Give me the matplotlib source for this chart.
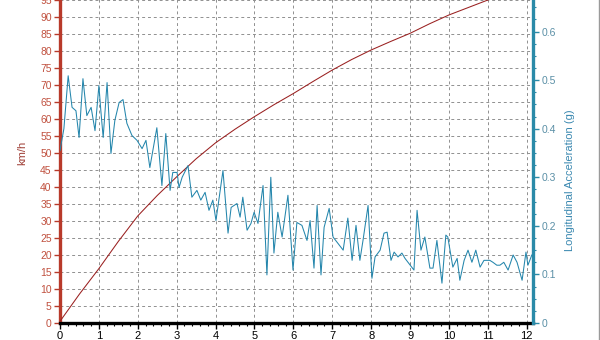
import matplotlib
matplotlib.use("Agg")
import matplotlib.pyplot as plt
from matplotlib.ticker import MultipleLocator
from matplotlib.lines import Line2D

plt.rcParams['font.family'] = ['Liberation Sans', 'DejaVu Sans']

# Speed (km/h) vs time (s)
speed_t = [0, 0.5, 1, 1.5, 2, 2.5, 3, 3.5, 4, 4.5, 5, 5.5, 6, 6.5, 7, 7.5,
           8, 8.5, 9, 9.5, 10, 10.5, 11, 11.5, 12.2]
speed_v = [0.5, 8.5, 16, 24, 31.5, 37.5, 43, 48.3, 53, 57, 60.7, 64.2, 67.5,
           71, 74.4, 77.5, 80.3, 82.8, 85.2, 88, 90.6, 92.8, 95, 97.2, 100]

# Longitudinal acceleration (g) vs time (s)
acc_t = [0.00, 0.10, 0.21, 0.31, 0.41, 0.49, 0.59, 0.69, 0.80, 0.90, 1.00,
         1.05, 1.11, 1.21, 1.31, 1.41, 1.52, 1.62, 1.72, 1.85, 1.98, 2.11,
         2.21, 2.31, 2.49, 2.62, 2.72, 2.83, 2.90, 3.01, 3.06, 3.14, 3.29,
         3.39, 3.52, 3.62, 3.73, 3.83, 3.93, 4.01, 4.19, 4.32, 4.40, 4.55,
         4.63, 4.70, 4.81, 4.91, 4.99, 5.09, 5.22, 5.32, 5.42, 5.50, 5.60,
         5.71, 5.86, 5.99, 6.09, 6.22, 6.35, 6.43, 6.53, 6.61, 6.71, 6.79,
         6.92, 7.02, 7.28, 7.40, 7.51, 7.61, 7.71, 7.79, 7.92, 8.02, 8.10,
         8.23, 8.33, 8.41, 8.51, 8.59, 8.69, 8.79, 8.87, 9.10, 9.18, 9.28,
         9.38, 9.51, 9.59, 9.69, 9.82, 9.92, 9.97, 10.10, 10.21, 10.28,
         10.39, 10.49, 10.59, 10.69, 10.80, 10.90, 11.05, 11.13, 11.23,
         11.31, 11.41, 11.52, 11.65, 11.75, 11.88, 11.98, 12.03, 12.13]
acc_g = [0.355, 0.400, 0.509, 0.444, 0.437, 0.382, 0.503, 0.427, 0.444,
         0.396, 0.489, 0.437, 0.382, 0.495, 0.349, 0.417, 0.454, 0.460,
         0.411, 0.386, 0.376, 0.359, 0.376, 0.320, 0.402, 0.283, 0.390,
         0.273, 0.310, 0.310, 0.279, 0.300, 0.324, 0.259, 0.273, 0.253,
         0.269, 0.232, 0.253, 0.211, 0.314, 0.185, 0.238, 0.246, 0.218,
         0.259, 0.191, 0.205, 0.228, 0.205, 0.283, 0.099, 0.300, 0.144,
         0.228, 0.177, 0.263, 0.109, 0.207, 0.201, 0.170, 0.211, 0.113,
         0.242, 0.099, 0.197, 0.236, 0.177, 0.150, 0.216, 0.129, 0.201,
         0.129, 0.170, 0.242, 0.092, 0.136, 0.150, 0.185, 0.187, 0.129,
         0.146, 0.136, 0.144, 0.133, 0.109, 0.232, 0.150, 0.177, 0.113,
         0.113, 0.170, 0.082, 0.181, 0.177, 0.115, 0.133, 0.088, 0.129,
         0.150, 0.125, 0.150, 0.115, 0.129, 0.129, 0.125, 0.119, 0.119,
         0.125, 0.109, 0.140, 0.125, 0.088, 0.146, 0.119, 0.140]

x_ticks = list(range(0, 13))
left_ticks = list(range(0, 101, 5))
right_ticks = [0, 0.1, 0.2, 0.3, 0.4, 0.5, 0.6]

red = '#b83a2a'
red_text = '#c0503e'
teal = '#2a8aa8'
teal_text = '#5a8fa6'

fig = plt.figure(figsize=(6, 3.4), dpi=100)
fig.patch.set_facecolor('white')
ax = fig.add_axes([0.1, 0.05, 0.7883, 1.0])
ax2 = ax.twinx()

ax.set_xlim(0, 12.16)
ax.set_ylim(0, 100)
ax2.set_ylim(0, 0.7)

ax.grid(True, which='major', color='#909090', linestyle=(0, (3, 3)), linewidth=0.7)
ax.set_axisbelow(True)

ax.plot(speed_t, speed_v, color='#9a2020', linewidth=0.75, zorder=3)
ax2.plot(acc_t, acc_g, color='#2486ac', linewidth=0.75, zorder=3)

ax.set_xticks(x_ticks)
ax.xaxis.set_minor_locator(MultipleLocator(0.2))
ax.set_yticks(left_ticks)
ax2.set_yticks(right_ticks)
ax2.set_yticklabels(['0', '0.1', '0.2', '0.3', '0.4', '0.5', '0.6'])
ax2.yaxis.set_minor_locator(MultipleLocator(0.025))

for s in ['top']:
    ax.spines[s].set_visible(False)
    ax2.spines[s].set_visible(False)
ax2.spines['left'].set_visible(False)
ax2.spines['bottom'].set_visible(False)
ax.spines['right'].set_visible(False)

ax.spines['left'].set_color(red)
ax.spines['left'].set_linewidth(2.4)
ax.spines['bottom'].set_color('black')
ax.spines['bottom'].set_linewidth(2.4)
ax2.spines['right'].set_color(teal)
ax2.spines['right'].set_linewidth(2.4)

ax.tick_params(axis='y', colors=red, labelcolor=red_text, labelsize=7.5,
               length=4, width=1, pad=2)
ax.tick_params(axis='x', colors='black', labelcolor='black', labelsize=8,
               length=4, width=1, pad=1.5)
ax.tick_params(axis='x', which='minor', length=2.5, width=0.8, colors='black')
ax2.tick_params(axis='y', colors=teal, labelcolor=teal_text, labelsize=7.5,
                length=4, width=1, pad=2)
ax2.tick_params(axis='y', which='minor', length=2.5, width=0.8, colors=teal)

ax.set_ylabel('km/h', color='#a04038', fontsize=8)
ax.yaxis.set_label_coords(-0.07, 0.5)
ax2.set_ylabel('Longitudinal Acceleration (g)', color='#3a88b0', fontsize=8)
ax2.yaxis.set_label_coords(1.068, 0.42)

fig.add_artist(Line2D([0.9975, 0.9975], [0, 1], transform=fig.transFigure,
                      color='#9a9a9a', linewidth=1))

fig.savefig('out.png', dpi=100, facecolor='white')
